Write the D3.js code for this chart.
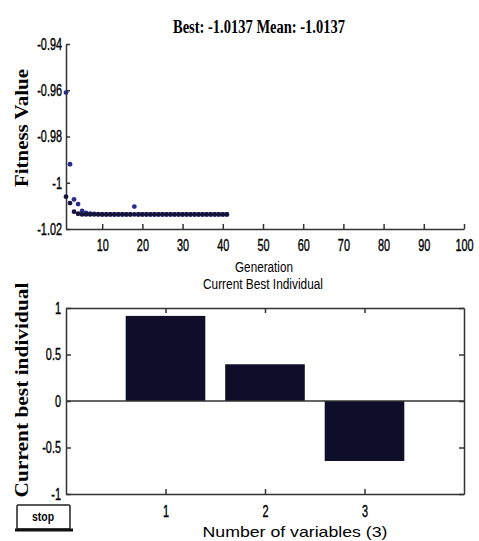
<!DOCTYPE html>
<html>
<head>
<meta charset="utf-8">
<script src="https://cdn.jsdelivr.net/npm/d3@7"></script>
<style>
  body { margin: 0; background: #fff; }
  svg { display: block; }
  .domain, .tick line { stroke: #333; stroke-width: 1.5; }
</style>
</head>
<body>
<script>
// generations 1..41 of the GA run
let generations = [1,2,3,4,5,6,7,8,9,10,11,12,13,14,15,16,17,18,19,20,21,22,23,24,25,26,27,28,29,30,31,32,33,34,35,36,37,38,39,40,41]
let bestFitness = [-1.0060,-1.0088,-1.0125,-1.0134,-1.0137,-1.0137,-1.0137,-1.0137,-1.0137,-1.0137,
                   -1.0137,-1.0137,-1.0137,-1.0137,-1.0137,-1.0137,-1.0137,-1.0137,-1.0137,-1.0137,
                   -1.0137,-1.0137,-1.0137,-1.0137,-1.0137,-1.0137,-1.0137,-1.0137,-1.0137,-1.0137,
                   -1.0137,-1.0137,-1.0137,-1.0137,-1.0137,-1.0137,-1.0137,-1.0137,-1.0137,-1.0137,-1.0137]
let meanFitness = [-0.9610,-0.9920,-1.0072,-1.0092,-1.0122,-1.0130,-1.0134,-1.0135,-1.0136,-1.0137,
                   -1.0137,-1.0137,-1.0137,-1.0137,-1.0137,-1.0137,-1.0137,-1.0103,-1.0137,-1.0137,
                   -1.0137,-1.0137,-1.0137,-1.0137,-1.0137,-1.0137,-1.0137,-1.0137,-1.0137,-1.0137,
                   -1.0137,-1.0137,-1.0137,-1.0137,-1.0137,-1.0137,-1.0137,-1.0137,-1.0137,-1.0137,-1.0137]
let fitnessTicks = [-1.02, -1, -0.98, -0.96, -0.94]
let generationTicks = [10,20,30,40,50,60,70,80,90,100]

let variables = [1, 2, 3]
let bestIndividual = [0.915, 0.395, -0.645]
let individualTicks = [-1, -0.5, 0, 0.5, 1]

let sans = 'Liberation Sans, Arial, sans-serif'
let serif = 'Liberation Serif, Times New Roman, serif'

// squeeze text horizontally, like the narrow matlab font
function condense(sel, f){
    sel.each(function(){
        let w = this.getComputedTextLength()
        d3.select(this).attr('textLength', w * f).attr('lengthAdjust', 'spacingAndGlyphs')
    })
}

function main(){
    let svg = d3.select('body').append('svg')
        .attr('width', 479)
        .attr('height', 541)

    let plain = (d) => String(d)    // hyphen minus, no trailing zeros

    // ---- top: fitness plot ----
    let x1 = d3.scaleLinear().domain([1, 100]).range([66, 464])
    let y1 = d3.scaleLinear().domain([-1.02, -0.94]).range([229, 44])

    svg.append('g')
        .attr('transform', 'translate(0,229)')
        .call(d3.axisBottom(x1).tickValues(generationTicks).tickSize(-5).tickSizeOuter(0).tickPadding(10).tickFormat(plain))

    svg.append('g')
        .attr('transform', 'translate(66,0)')
        .call(d3.axisLeft(y1).tickValues(fitnessTicks).tickSize(-4).tickSizeOuter(0).tickPadding(4).tickFormat(plain))

    // mean points (blue) then best points (dark)
    svg.append('g').selectAll('circle')
        .data(generations)
        .enter().append('circle')
        .attr('cx', (d) => x1(d))
        .attr('cy', (d, i) => y1(meanFitness[i]))
        .attr('r', 2.4)
        .attr('fill', '#2b2b8c')

    svg.append('g').selectAll('circle')
        .data(generations)
        .enter().append('circle')
        .attr('cx', (d) => x1(d))
        .attr('cy', (d, i) => y1(bestFitness[i]))
        .attr('r', 2.4)
        .attr('fill', '#14143c')

    svg.append('text')
        .attr('x', 259).attr('y', 33)
        .attr('text-anchor', 'middle')
        .attr('font-family', serif)
        .attr('font-weight', 'bold')
        .attr('font-size', 18)
        .attr('textLength', 172).attr('lengthAdjust', 'spacingAndGlyphs')
        .text('Best: -' + Math.abs(bestFitness[bestFitness.length - 1]).toFixed(4) + ' Mean: -' + Math.abs(meanFitness[meanFitness.length - 1]).toFixed(4))

    svg.append('text')
        .attr('transform', 'translate(28,128) rotate(-90)')
        .attr('text-anchor', 'middle')
        .attr('font-family', serif)
        .attr('font-weight', 'bold')
        .attr('font-size', 18)
        .attr('textLength', 118).attr('lengthAdjust', 'spacingAndGlyphs')
        .text('Fitness Value')

    svg.append('text')
        .attr('x', 264).attr('y', 272)
        .attr('text-anchor', 'middle')
        .attr('font-family', sans)
        .attr('font-size', 14)
        .attr('textLength', 58).attr('lengthAdjust', 'spacingAndGlyphs')
        .text('Generation')

    // ---- bottom: current best individual ----
    let x2 = d3.scaleLinear().domain([0, 4]).range([66, 464])
    let y2 = d3.scaleLinear().domain([-1, 1]).range([494, 308])
    let barW = x2(0.8) - x2(0)

    svg.append('text')
        .attr('x', 263).attr('y', 289)
        .attr('text-anchor', 'middle')
        .attr('font-family', sans)
        .attr('font-size', 14)
        .attr('textLength', 120).attr('lengthAdjust', 'spacingAndGlyphs')
        .text('Current Best Individual')

    svg.append('g').selectAll('rect')
        .data(variables)
        .enter().append('rect')
        .attr('x', (d) => x2(d) - barW / 2)
        .attr('y', (d, i) => y2(Math.max(0, bestIndividual[i])))
        .attr('width', barW)
        .attr('height', (d, i) => Math.abs(y2(bestIndividual[i]) - y2(0)))
        .attr('fill', '#0e0e2a')

    // baseline
    svg.append('line')
        .attr('x1', x2(0)).attr('x2', x2(4))
        .attr('y1', y2(0)).attr('y2', y2(0))
        .attr('stroke', '#333').attr('stroke-width', 1.5)

    svg.append('g')
        .attr('transform', 'translate(0,494)')
        .call(d3.axisBottom(x2).tickValues(variables).tickSize(-5).tickSizeOuter(0).tickPadding(11).tickFormat(plain))
    svg.append('g')
        .attr('transform', 'translate(0,308)')
        .call(d3.axisTop(x2).tickValues(variables).tickSize(-5).tickSizeOuter(0).tickFormat(''))
    svg.append('g')
        .attr('transform', 'translate(66,0)')
        .call(d3.axisLeft(y2).tickValues(individualTicks).tickSize(-5).tickSizeOuter(0).tickPadding(5).tickFormat(plain))
    svg.append('g')
        .attr('transform', 'translate(464,0)')
        .call(d3.axisRight(y2).tickValues(individualTicks).tickSize(-5).tickSizeOuter(0).tickFormat(''))

    // tick labels: tall, narrow and a little heavy
    let tickText = svg.selectAll('.tick text')
        .attr('font-family', sans)
        .attr('font-size', 17)
        .attr('fill', '#000')
        .attr('stroke', '#000')
        .attr('stroke-width', 0.4)
    condense(tickText, 0.64)

    svg.append('text')
        .attr('transform', 'translate(28,390) rotate(-90)')
        .attr('text-anchor', 'middle')
        .attr('font-family', serif)
        .attr('font-weight', 'bold')
        .attr('font-size', 18)
        .attr('textLength', 215).attr('lengthAdjust', 'spacingAndGlyphs')
        .text('Current best individual')

    svg.append('text')
        .attr('x', 295).attr('y', 537)
        .attr('text-anchor', 'middle')
        .attr('font-family', sans)
        .attr('font-size', 15)
        .attr('textLength', 185).attr('lengthAdjust', 'spacingAndGlyphs')
        .text('Number of variables (' + variables.length + ')')

    // stop button
    let btn = svg.append('g')
    btn.append('rect')
        .attr('x', 17).attr('y', 505).attr('width', 53).attr('height', 24)
        .attr('fill', '#fff').attr('stroke', '#222').attr('stroke-width', 1.5).attr('rx', 1)
    btn.append('line')
        .attr('x1', 15).attr('x2', 73).attr('y1', 530).attr('y2', 530)
        .attr('stroke', '#111').attr('stroke-width', 3)
    btn.append('text')
        .attr('x', 43).attr('y', 521)
        .attr('text-anchor', 'middle')
        .attr('font-family', sans)
        .attr('font-weight', 'bold')
        .attr('font-size', 12)
        .attr('textLength', 22).attr('lengthAdjust', 'spacingAndGlyphs')
        .text('stop')
}
main()
</script>
</body>
</html>
